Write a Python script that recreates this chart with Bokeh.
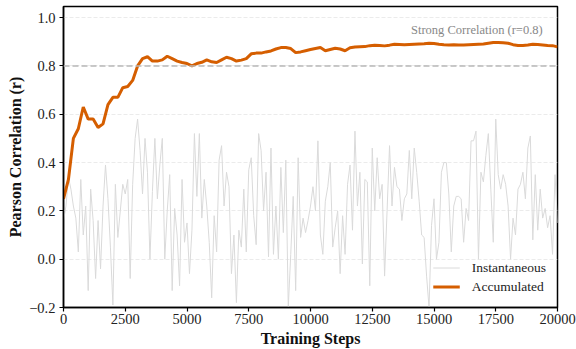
from bokeh.plotting import figure
from bokeh.models import Range1d, FixedTicker, Span, Label, Legend, LegendItem, CustomJSTickFormatter
from bokeh.embed import file_html
from bokeh.resources import INLINE

# ---- data ----
steps = list(range(0, 20001, 100))
instantaneous = [
    0.16, 0.22, 0.34, 0.29, 0.22, 0.17, 0.03, 0.33, 0.10, 0.22,
    -0.13, 0.29, 0.16, -0.08, 0.16, -0.04, 0.22, 0.39, 0.25, 0.05,
    -0.19, 0.31, 0.09, 0.20, 0.31, 0.27, 0.33, -0.08, 0.31, 0.50,
    0.58, 0.45, 0.27, 0.50, 0.36, 0.00, 0.28, 0.50, 0.25, 0.39,
    0.50, 0.00, 0.20, 0.35, -0.13, 0.21, 0.10, -0.11, 0.33, 0.07,
    0.15, -0.06, 0.12, 0.52, 0.26, 0.52, 0.17, 0.33, 0.22, 0.07,
    -0.16, 0.18, 0.03, 0.41, 0.47, 0.22, 0.36, 0.30, -0.06, 0.10,
    -0.18, 0.12, 0.05, 0.29, 0.03, 0.37, 0.42, 0.18, 0.06, 0.52,
    0.45, 0.20, 0.36, 0.01, 0.46, 0.02, 0.22, 0.00, 0.38, 0.11,
    0.41, -0.20, 0.02, 0.26, -0.13, 0.42, 0.09, 0.17, 0.11, 0.16,
    0.22, 0.30, 0.20, 0.49, 0.10, 0.02, 0.24, 0.30, 0.40, 0.05,
    0.13, 0.20, -0.06, 0.18, 0.02, 0.31, 0.39, 0.12, 0.53, 0.22,
    0.36, -0.02, 0.33, 0.32, -0.11, 0.46, 0.20, 0.42, 0.25, 0.31,
    -0.07, 0.20, 0.47, 0.22, 0.38, 0.30, 0.29, 0.16, 0.25, 0.27,
    0.45, 0.25, 0.46, 0.36, 0.24, 0.10, 0.09, -0.07, -0.20, 0.14,
    0.25, 0.00, 0.07, 0.36, 0.40, 0.40, 0.27, 0.03, 0.22, 0.26,
    0.26, 0.25, 0.07, 0.21, 0.16, 0.49, 0.49, 0.53, 0.00, 0.36,
    0.32, 0.43, 0.52, 0.29, 0.07, 0.58, 0.35, 0.29, 0.35, 0.31,
    0.22, 0.00, 0.17, 0.10, 0.29, 0.31, 0.36, 0.25, 0.46, 0.51,
    0.08, 0.35, 0.12, 0.29, 0.17, 0.21, 0.13, 0.18, 0.02, 0.35,
    0.15,
]
acc_steps = list(range(0, 20001, 200))
accumulated = [
    0.25, 0.33, 0.50, 0.54, 0.63, 0.58, 0.58, 0.545, 0.56, 0.64,
    0.67, 0.67, 0.71, 0.715, 0.74, 0.80, 0.83, 0.838, 0.82, 0.82,
    0.825, 0.84, 0.83, 0.82, 0.814, 0.81, 0.80, 0.81, 0.815, 0.825,
    0.817, 0.814, 0.825, 0.836, 0.83, 0.82, 0.824, 0.83, 0.85, 0.853,
    0.853, 0.858, 0.862, 0.87, 0.876, 0.876, 0.872, 0.855, 0.858, 0.863,
    0.868, 0.872, 0.876, 0.863, 0.868, 0.873, 0.87, 0.863, 0.875, 0.878,
    0.879, 0.88, 0.884, 0.886, 0.885, 0.883, 0.886, 0.89, 0.889, 0.888,
    0.889, 0.89, 0.891, 0.892, 0.894, 0.893, 0.89, 0.888, 0.887, 0.888,
    0.887, 0.887, 0.888, 0.889, 0.89, 0.891, 0.894, 0.897, 0.897, 0.896,
    0.894, 0.888, 0.885, 0.885, 0.887, 0.89, 0.889, 0.887, 0.885, 0.884,
    0.879,
]
x_ticks = [0, 2500, 5000, 7500, 10000, 12500, 15000, 17500, 20000]
y_ticks = [-0.2, 0.0, 0.2, 0.4, 0.6, 0.8, 1.0]
threshold = 0.8
threshold_label = "Strong Correlation (r=0.8)"

FONT = "Liberation Serif"

p = figure(width=576, height=349, output_backend="svg", toolbar_location=None,
           x_range=Range1d(0, 20000), y_range=Range1d(-0.2, 1.046),
           min_border_left=63, min_border_right=19, min_border_top=6, min_border_bottom=41)

p.background_fill_color = "white"
p.border_fill_color = "white"
p.outline_line_color = "black"
p.outline_line_width = 1.5

p.xgrid.visible = False
p.ygrid.grid_line_color = "#e6e6e6"
p.ygrid.grid_line_dash = "4 2"
p.ygrid.grid_line_width = 0.8

for ax in (p.xaxis[0], p.yaxis[0]):
    ax.axis_line_color = "black"
    ax.axis_line_width = 1.5
    ax.major_tick_line_color = "black"
    ax.major_tick_line_width = 1.2
    ax.major_tick_out = 4
    ax.major_tick_in = 0
    ax.minor_tick_out = 0
    ax.minor_tick_in = 0
    ax.major_label_text_font = FONT
    ax.major_label_text_font_size = "14.5px"
    ax.major_label_text_color = "#222222"
    ax.axis_label_text_font = FONT
    ax.axis_label_text_font_size = "16px"
    ax.axis_label_text_font_style = "bold"
    ax.axis_label_text_color = "#111111"

p.xaxis.ticker = FixedTicker(ticks=x_ticks)
p.yaxis.ticker = FixedTicker(ticks=y_ticks)
p.yaxis.formatter = CustomJSTickFormatter(code="return (tick < -1e-9 ? '\u2212' : '') + Math.abs(tick).toFixed(1);")
p.xaxis.formatter = CustomJSTickFormatter(code="return Math.round(tick).toString();")
p.xaxis.axis_label = "Training Steps"
p.yaxis.axis_label = "Pearson Correlation (r)"
p.xaxis.major_label_standoff = 2
p.xaxis.axis_label_standoff = 3
p.yaxis.major_label_standoff = 4
p.yaxis.axis_label_standoff = 2

span = Span(location=threshold, dimension="width", line_color="#b8b8b8",
            line_width=1.5, line_dash="6 3")
p.add_layout(span)

r_inst = p.line(steps, instantaneous, line_color="#dadada", line_width=1.0)
r_acc = p.line(acc_steps, accumulated, line_color="#D55E00", line_width=3.0)

lab = Label(x=19400, y=0.947, text=threshold_label, text_align="right", text_baseline="middle",
            text_font=FONT, text_font_size="12.5px", text_color="#888888")
p.add_layout(lab)

legend = Legend(items=[LegendItem(label="Instantaneous", renderers=[r_inst]),
                       LegendItem(label="Accumulated", renderers=[r_acc])],
                location="bottom_right")
legend.label_text_font = FONT
legend.label_text_font_size = "13.5px"
legend.label_text_color = "#222222"
legend.border_line_alpha = 0
legend.background_fill_alpha = 0
legend.glyph_width = 27
legend.label_standoff = 12
legend.label_height = 19
legend.glyph_height = 19
legend.spacing = 0
legend.padding = 5
legend.margin = 6
p.add_layout(legend)

open("out.html", "w").write(file_html(p, INLINE))
